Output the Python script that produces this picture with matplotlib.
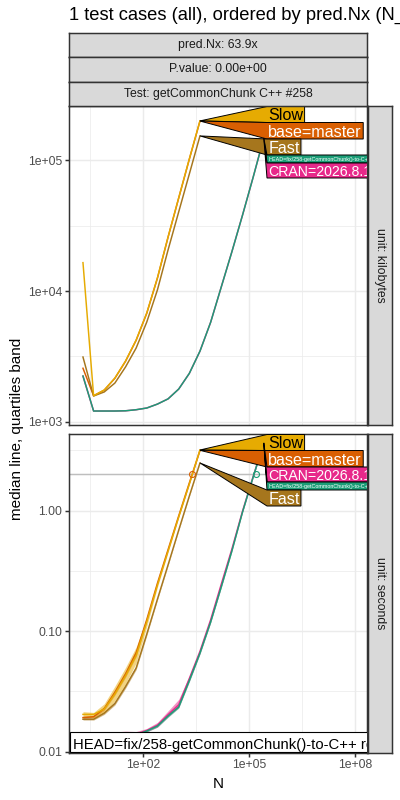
import numpy as np
import matplotlib
matplotlib.use('Agg')
import matplotlib.pyplot as plt
from matplotlib.patches import Polygon, Rectangle
from matplotlib.transforms import IdentityTransform

plt.rcParams['font.family'] = ['Liberation Sans', 'DejaVu Sans']

# ---- data ----
N_short = [2, 4, 8, 16, 32, 64, 128, 256, 512, 1024, 2048, 4096]
N_long = [2, 4, 8, 16, 32, 64, 128, 256, 512, 1024, 2048, 4096,
          8192, 16384, 32768, 65536, 131072, 262144]

SLOW = 'Slow'
BASE = 'base=master'
FAST = 'Fast'
HEAD = 'HEAD=fix/258-getCommonChunk()-to-C++'
CRAN = 'CRAN=2026.8.1'
head_note = 'HEAD=fix/258-getCommonChunk()-to-C++ rewrite'

# memory, kilobytes (median)
slow_kb = [16480, 1581, 1750, 2158, 2911, 4217, 6792, 12590, 25880, 51520, 102300, 200000]
base_kb = [2565, 1581, 1745, 2150, 2900, 4200, 6770, 12550, 25800, 51400, 102000, 199500]
fast_kb = [3126, 1574, 1690, 1977, 2624, 3664, 5794, 10190, 20610, 40270, 78520, 153500]
head_kb = [2239, 1208, 1208, 1208, 1213, 1236, 1274, 1365, 1496, 1778, 2344, 3467,
           5754, 10720, 19950, 38020, 74130, 147900]
cran_kb = [2230, 1208, 1208, 1208, 1213, 1236, 1274, 1365, 1496, 1778, 2344, 3467,
           5754, 10720, 19950, 38020, 74130, 147900]

# time, seconds (median, first and third quartiles)
slow_s = [0.0204, 0.0204, 0.0226, 0.0302, 0.0427, 0.0631, 0.120, 0.2415, 0.462, 0.887, 1.667, 3.19]
slow_lo = [0.0195, 0.0192, 0.0210, 0.0265, 0.0365, 0.0545, 0.110, 0.232, 0.452, 0.875, 1.65, 3.15]
slow_hi = [0.0215, 0.0212, 0.0250, 0.0350, 0.0500, 0.0740, 0.130, 0.252, 0.472, 0.900, 1.69, 3.23]
base_s = [0.0192, 0.0195, 0.0228, 0.0310, 0.0440, 0.0660, 0.125, 0.250, 0.475, 0.905, 1.70, 3.17]
base_lo = [0.0188, 0.0190, 0.0220, 0.0295, 0.0415, 0.0615, 0.120, 0.245, 0.468, 0.895, 1.68, 3.14]
base_hi = [0.0196, 0.0200, 0.0238, 0.0330, 0.0470, 0.0710, 0.131, 0.256, 0.482, 0.915, 1.72, 3.20]
fast_s = [0.0186, 0.0186, 0.0209, 0.0251, 0.0347, 0.0495, 0.0948, 0.1845, 0.355, 0.689, 1.324, 2.49]
fast_lo = [0.0183, 0.0183, 0.0204, 0.0244, 0.0336, 0.0480, 0.0920, 0.181, 0.350, 0.682, 1.31, 2.47]
fast_hi = [0.0190, 0.0190, 0.0216, 0.0262, 0.0362, 0.0515, 0.0975, 0.188, 0.360, 0.696, 1.34, 2.51]
head_s = [0.0135, 0.0132, 0.0132, 0.0133, 0.0135, 0.0138, 0.01486, 0.01633, 0.01977, 0.0235,
          0.0390, 0.0659, 0.1191, 0.2328, 0.4634, 0.975, 1.905, 3.648]
head_lo = [0.0132, 0.0130, 0.0130, 0.0131, 0.0133, 0.0136, 0.0146, 0.0160, 0.0193, 0.0230,
           0.0380, 0.0645, 0.1170, 0.2300, 0.4580, 0.965, 1.89, 3.62]
head_hi = [0.0138, 0.0135, 0.0135, 0.0136, 0.0138, 0.0141, 0.0152, 0.0168, 0.0203, 0.0242,
           0.0400, 0.0672, 0.1215, 0.2360, 0.4690, 0.985, 1.92, 3.68]
cran_s = [0.0136, 0.0134, 0.0134, 0.0136, 0.0138, 0.0140, 0.0150, 0.0166, 0.0203, 0.0245,
          0.0405, 0.068, 0.124, 0.245, 0.48, 0.99, 1.92, 3.66]
cran_lo = [0.0132, 0.0130, 0.0130, 0.0131, 0.0133, 0.0136, 0.0146, 0.0160, 0.0195, 0.0232,
           0.0385, 0.0650, 0.1180, 0.2320, 0.465, 0.975, 1.89, 3.62]
cran_hi = [0.0140, 0.0146, 0.0145, 0.0146, 0.0148, 0.0147, 0.0156, 0.0175, 0.0218, 0.0272,
           0.0425, 0.0700, 0.1290, 0.2540, 0.495, 1.005, 1.95, 3.70]

# predicted N at the seconds limit
seconds_limit = 2.0
pred_names = [BASE, HEAD]
pred_N = [2450, 156600]

strip_top = ['pred.Nx: 63.9x', 'P.value: 0.00e+00', 'Test: getCommonChunk C++ #258']
strip_right = ['unit: kilobytes', 'unit: seconds']
title = '1 test cases (all), ordered by pred.Nx (N_HEAD/N_base)'

colors = {SLOW: '#E6AB02', BASE: '#D95F02', FAST: '#A6761D', HEAD: '#1B9E77', CRAN: '#E7298A'}
text_col = {SLOW: 'black', BASE: 'white', FAST: 'white', HEAD: 'white', CRAN: 'white'}
label_size = {SLOW: 11.6, BASE: 11.6, FAST: 11.6, HEAD: 3.9, CRAN: 10.2}
label_h = {SLOW: 16, BASE: 16.5, FAST: 16, HEAD: 8, CRAN: 15}

kb = {BASE: (N_short, base_kb), CRAN: (N_long, cran_kb), FAST: (N_short, fast_kb),
      HEAD: (N_long, head_kb), SLOW: (N_short, slow_kb)}
sec = {BASE: (N_short, base_s, base_lo, base_hi), CRAN: (N_long, cran_s, cran_lo, cran_hi),
       FAST: (N_short, fast_s, fast_lo, fast_hi), HEAD: (N_long, head_s, head_lo, head_hi),
       SLOW: (N_short, slow_s, slow_lo, slow_hi)}
draw_order = [BASE, CRAN, FAST, HEAD, SLOW]
label_order_kb = [SLOW, BASE, FAST, HEAD, CRAN]
label_order_s = [SLOW, BASE, CRAN, HEAD, FAST]

# ---- layout ----
W, H = 400, 800
fig = plt.figure(figsize=(4, 8), dpi=100)


def fig_rect(x0, y0, x1, y1):
    # pixel box measured from top-left -> figure fraction
    return [x0 / W, 1 - y1 / H, (x1 - x0) / W, (y1 - y0) / H]


GREY20 = '#333333'
LW = 1.07
XLIM = (10 ** -0.0945, 10 ** 8.34)
XTICKS = [1e2, 1e5, 1e8]
XMINOR = [10 ** 0.5, 10 ** 3.5, 10 ** 6.5]
YLIM_KB = (10 ** 2.979, 10 ** 5.415)
YLIM_S = (10 ** -2.0066, 10 ** 0.6365)

ax_kb = fig.add_axes(fig_rect(69, 106, 367, 424.5))
ax_s = fig.add_axes(fig_rect(69, 434, 367, 752.5))


def style_panel(ax, ylim, yticks, ylabels, yminor):
    ax.set_xscale('log')
    ax.set_yscale('log')
    ax.set_xlim(XLIM)
    ax.set_ylim(ylim)
    ax.set_xticks(XTICKS)
    ax.set_xticks(XMINOR, minor=True)
    ax.set_xticklabels(['1e+02', '1e+05', '1e+08'])
    ax.set_xticklabels([], minor=True)
    ax.set_yticks(yticks)
    ax.set_yticks(yminor, minor=True)
    ax.set_yticklabels(ylabels)
    ax.set_yticklabels([], minor=True)
    ax.grid(which='major', color='#EBEBEB', lw=LW)
    ax.grid(which='minor', color='#EBEBEB', lw=LW / 2)
    ax.set_axisbelow(True)
    ax.tick_params(which='minor', length=0)
    ax.tick_params(which='major', length=2.75, width=LW, color=GREY20,
                   labelcolor='#4D4D4D', labelsize=8.8, pad=2.2)
    for sp in ax.spines.values():
        sp.set_color(GREY20)
        sp.set_linewidth(LW)


style_panel(ax_kb, YLIM_KB, [1e3, 1e4, 1e5], ['1e+03', '1e+04', '1e+05'],
            [10 ** 3.5, 10 ** 4.5])
style_panel(ax_s, YLIM_S, [0.01, 0.1, 1.0], ['0.01', '0.10', '1.00'],
            [10 ** -1.5, 10 ** -0.5, 10 ** 0.5])
ax_kb.tick_params(axis='x', which='both', length=0, labelbottom=False)

# ---- lines ----
for name in draw_order:
    n, v = kb[name]
    ax_kb.plot(n, v, color=colors[name], lw=LW, zorder=3)

ax_s.axhline(seconds_limit, color='#BEBEBE', lw=LW, zorder=2)
for name in draw_order:
    n, v, lo, hi = sec[name]
    ax_s.fill_between(n, lo, hi, color=colors[name], alpha=0.5, lw=0, zorder=2.5)
    ax_s.plot(n, v, color=colors[name], lw=LW, zorder=3)
for name, n in zip(pred_names, pred_N):
    ax_s.plot([n], [seconds_limit], 'o', mfc='none', mec=colors[name], ms=4.3, mew=0.8, zorder=4)


# ---- strips ----
def strip(rect, text, rotation=0):
    sa = fig.add_axes(rect)
    sa.set_facecolor('#D9D9D9')
    sa.set_xticks([])
    sa.set_yticks([])
    for sp in sa.spines.values():
        sp.set_color(GREY20)
        sp.set_linewidth(LW)
    sa.text(0.5, 0.5, text, ha='center', va='center', rotation=rotation,
            size=8.8, color='#1A1A1A', transform=sa.transAxes)


strip_y = [33, 57.3, 81.7, 106]
for i, s in enumerate(strip_top):
    strip(fig_rect(69, strip_y[i], 367, strip_y[i + 1]), s)
strip(fig_rect(368, 106, 392, 424.5), strip_right[0], rotation=-90)
strip(fig_rect(368, 434, 392, 752.5), strip_right[1], rotation=-90)

# ---- texts ----
fig.text(69 / W, 1 - 15 / H, title, ha='left', va='center', size=13.2)
fig.text(17 / W, 1 - 429 / H, 'median line, quartiles band', rotation=90,
         ha='center', va='center', size=11)
fig.text(218 / W, 1 - 784 / H, 'N', ha='center', va='center', size=11)

# ---- direct labels (polygon boxes pointing at the last point) ----
fig.canvas.draw()
renderer = fig.canvas.get_renderer()
ID = IdentityTransform()
LABEL_LEFT = 198  # px from panel left


def direct_labels(ax, order, series):
    bb = ax.get_window_extent(renderer)
    top = bb.y1 - 0.5
    left = bb.x0 + LABEL_LEFT
    for name in order:
        n, v = series[name][0], series[name][1]
        tip = ax.transData.transform((n[-1], v[-1]))
        h = label_h[name]
        bottom = top - h
        t = ax.text(left + 1.3, bottom + 2.4, name, transform=ID, size=label_size[name],
                    color=text_col[name], ha='left', va='baseline', clip_on=True, zorder=6)
        w = t.get_window_extent(renderer).width + 2.6
        poly = Polygon([tip, (left, top), (left + w, top), (left + w, bottom), (left, bottom)],
                       closed=True, transform=ID, fc=colors[name], ec='black', lw=0.7, zorder=5)
        ax.add_patch(poly)
        top = bottom


direct_labels(ax_kb, label_order_kb, kb)
direct_labels(ax_s, label_order_s, sec)

# note box at the bottom of the seconds panel
bb = ax_s.get_window_extent(renderer)
note_box = Rectangle((bb.x0 + 1, bb.y0 + 0.5), 600, 20, transform=ID,
                     fc='white', ec='black', lw=0.8, zorder=7)
ax_s.add_patch(note_box)
ax_s.text(bb.x0 + 4, bb.y0 + 3.5, head_note, transform=ID, size=10.7, ha='left',
          va='baseline', clip_on=True, zorder=8)

ax_kb.set_xlim(XLIM)
ax_s.set_xlim(XLIM)
ax_kb.set_ylim(YLIM_KB)
ax_s.set_ylim(YLIM_S)

fig.savefig('out.png', dpi=100)
